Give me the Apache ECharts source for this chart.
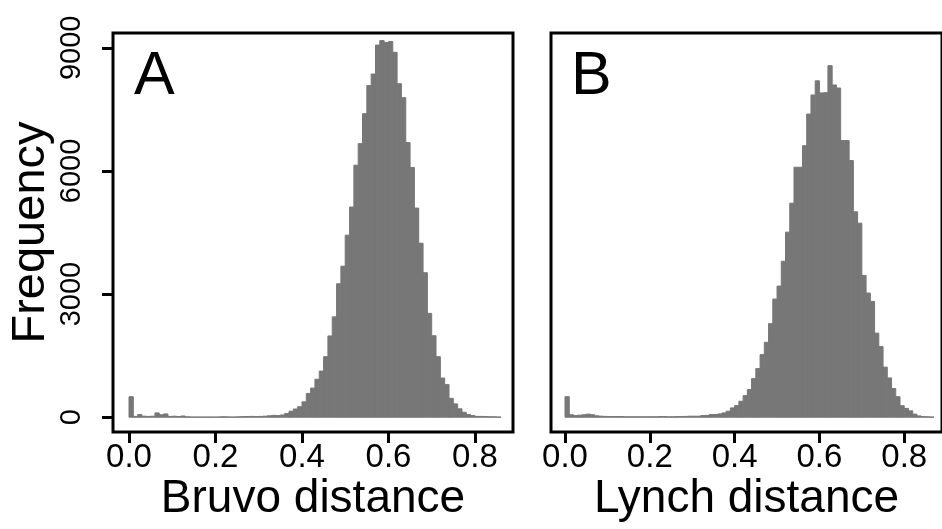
<!DOCTYPE html>
<html>
<head>
<meta charset="utf-8">
<script src="https://cdn.jsdelivr.net/npm/echarts@6/dist/echarts.min.js"></script>
<style>
  html, body { margin: 0; padding: 0; background: #fff; }
  #chart { width: 942px; height: 529px; }
</style>
</head>
<body>
<div id="chart"></div>
<script>
// histogram bins are 0.01 wide, starting at 0.00
const binWidth = 0.01
const bruvoCounts = [
  500, 20, 65, 25, 20, 25, 105, 60, 80, 20,
  25, 15, 30, 10, 5, 5, 5, 5, 5, 5,
  5, 10, 10, 5, 5, 10, 15, 15, 20, 15,
  20, 25, 35, 45, 40, 55, 90, 146, 200, 255,
  375, 580, 710, 925, 1125, 1475, 1980, 2445, 3250, 3680,
  4435, 5120, 6140, 6665, 7395, 8080, 8360, 9065, 9175, 9130,
  9150, 8890, 8125, 7785, 6690, 6085, 5095, 4240, 3520, 2530,
  1985, 1475, 955, 795, 460, 325, 205, 120, 65, 40,
  20, 20, 15, 10, 10, 5
]
const lynchCounts = [
  500, 60, 40, 50, 60, 75, 60, 35, 25, 20,
  15, 15, 15, 15, 10, 10, 10, 10, 10, 10,
  10, 10, 15, 15, 10, 10, 15, 15, 20, 25,
  25, 25, 40, 45, 65, 65, 80, 105, 146, 227,
  284, 389, 527, 673, 941, 1184, 1525, 1825, 2279, 2879,
  3195, 3800, 4509, 5214, 6090, 6090, 6615, 7385, 7850, 8195,
  7900, 7907, 8564, 8094, 8020, 6740, 6740, 6253, 5005, 4728,
  3455, 3025, 2822, 2048, 1720, 1220, 957, 700, 500, 280,
  215, 155, 75, 32, 15, 10, 5
]
const xTicks = [0, 0.2, 0.4, 0.6, 0.8]
const yTicks = [0, 3000, 6000, 9000]
const panelLetters = ['A', 'B']
const xTitles = ['Bruvo distance', 'Lynch distance']
const yTitle = 'Frequency'

const font = 'Liberation Sans, Arial, Helvetica, sans-serif'
const barColor = '#777777'

function toBins(counts) {
  return counts.map((c, i) => [i * binWidth, c])
}

function renderBar(params, api) {
  const x0 = api.value(0)
  const top = api.coord([x0, api.value(1)])
  const bottom = api.coord([x0 + binWidth, 0])
  return {
    type: 'rect',
    shape: { x: top[0], y: top[1], width: bottom[0] - top[0], height: bottom[1] - top[1] },
    style: { fill: barColor, stroke: barColor, lineWidth: 1 }
  }
}

function xAxisFor(idx, min, max) {
  return {
    gridIndex: idx,
    type: 'value',
    min: min,
    max: max,
    name: xTitles[idx],
    nameLocation: 'middle',
    nameGap: 44,
    nameMoveOverlap: false,
    nameTextStyle: { fontSize: 46, color: '#000', fontFamily: font },
    splitLine: { show: false },
    axisLine: { show: false, onZero: false },
    axisTick: { show: true, customValues: xTicks, length: 11, lineStyle: { color: '#000', width: 3 } },
    axisLabel: {
      customValues: xTicks,
      formatter: v => v.toFixed(1),
      fontSize: 33, color: '#000', fontFamily: font, margin: 9
    }
  }
}

function yAxisFor(idx) {
  const withLabels = idx === 0
  return {
    gridIndex: idx,
    type: 'value',
    min: -360,
    max: 9360,
    name: withLabels ? yTitle : '',
    nameLocation: 'middle',
    nameGap: 58,
    nameMoveOverlap: false,
    nameTextStyle: { fontSize: 47, color: '#000', fontFamily: font },
    splitLine: { show: false },
    axisLine: { show: false, onZero: false },
    axisTick: { show: withLabels, customValues: yTicks, length: 11, lineStyle: { color: '#000', width: 3 } },
    axisLabel: {
      show: withLabels,
      customValues: yTicks,
      formatter: v => String(v),
      rotate: 90,
      fontSize: 29, color: '#000', fontFamily: font, margin: 27
    }
  }
}

const chart = echarts.init(document.getElementById('chart'), null, { renderer: 'canvas' })

const option = {
  backgroundColor: '#fff',
  animation: false,
  title: panelLetters.map((t, i) => ({
    text: t,
    left: i === 0 ? 134 : 571,
    top: 47,
    padding: 0,
    textStyle: { fontSize: 61, fontWeight: 'normal', color: '#000', fontFamily: font }
  })),
  grid: [
    { left: 113, top: 33, width: 400, height: 399, show: true, borderColor: '#000', borderWidth: 3, backgroundColor: 'transparent' },
    { left: 551, top: 33, width: 400, height: 399, show: true, borderColor: '#000', borderWidth: 3, backgroundColor: 'transparent' }
  ],
  xAxis: [xAxisFor(0, -0.037, 0.888), xAxisFor(1, -0.033, 0.889)],
  yAxis: [yAxisFor(0), yAxisFor(1)],
  series: [
    { type: 'custom', xAxisIndex: 0, yAxisIndex: 0, renderItem: renderBar, data: toBins(bruvoCounts), clip: true },
    { type: 'custom', xAxisIndex: 1, yAxisIndex: 1, renderItem: renderBar, data: toBins(lynchCounts), clip: true }
  ]
}

chart.setOption(option)
</script>
</body>
</html>
